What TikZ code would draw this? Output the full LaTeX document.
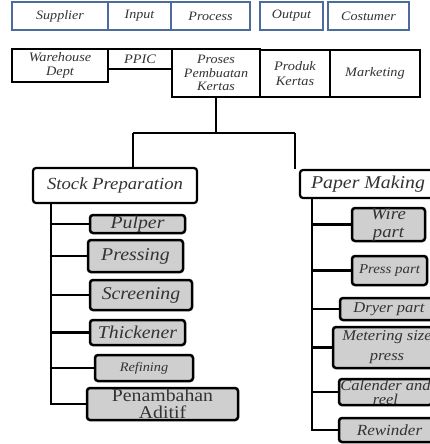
\documentclass[tikz,border=0pt]{standalone}
\usepackage{fontspec}
\setmainfont{Liberation Serif}[FakeStretch=1.1]
\definecolor{topblue}{HTML}{4C6C9C}
\definecolor{subgray}{HTML}{CFCFCF}
\definecolor{txtgray}{HTML}{333333}
\newcommand\mybox[8][]{%
  \node[#2, minimum width={#6pt-#4pt}, minimum height={#7pt-#5pt}] (#3) at ({(#4+#6)/2},{(#5+#7)/2}) {};%
  \node[lbl,#1] at (#3) {#8};}
\tikzset{
  topbox/.style={draw=topblue, line width=2.2pt, fill=white, inner sep=0pt},
  rowbox/.style={draw=black, line width=2pt, fill=white, inner sep=0pt},
  headbox/.style={draw=black, line width=2.2pt, rounded corners=3pt, fill=white, inner sep=0pt},
  subbox/.style={draw=black, line width=2.5pt, rounded corners=3pt, fill=subgray, inner sep=0pt},
  lbl/.style={inner sep=0pt, text=txtgray, align=center},
  conn/.style={line width=2pt, draw=black},
  fi/.style 2 args={font=\fontsize{#1}{#2}\selectfont\itshape},
  fu/.style 2 args={font=\fontsize{#1}{#2}\selectfont},
}
\begin{document}
\begin{tikzpicture}[x=1pt,y=-1pt]
\useasboundingbox (0,0) rectangle (430,444);
\clip (0,0) rectangle (430,444);
% top row
\mybox[fi={12.8}{14}]{topbox}{sup}{12}{2}{108}{30}{Supplier}
\mybox[fi={12.8}{14}]{topbox}{inp}{108}{2}{171}{30}{Input}
\mybox[fi={12.8}{14}]{topbox}{prc}{171}{2}{250}{30}{Process}
\mybox[fi={12.8}{14}]{topbox}{out}{260}{2}{323}{30}{Output}
\mybox[fi={12.8}{14}]{topbox}{cos}{328}{2}{409}{30}{Costumer}
% second row
\mybox[fi={13}{14}]{rowbox}{wh}{12}{49}{108}{82}{Warehouse\\Dept}
\mybox[fi={13}{14}]{rowbox}{ppic}{108}{49}{172}{69}{PPIC}
\mybox[fi={12.8}{13.5}]{rowbox}{pro}{172}{49}{260}{97}{Proses\\Pembuatan\\Kertas}
\mybox[fi={13}{15}]{rowbox}{prk}{260}{50}{330}{97}{Produk\\Kertas}
\mybox[fi={13}{14}]{rowbox}{mkt}{330}{50}{420}{97}{Marketing}
% heads
\mybox[fi={17}{17}]{headbox}{sp}{33}{168}{197}{203}{Stock Preparation}
\mybox[fi={18}{18}]{headbox}{pm}{300}{170}{436}{198}{Paper Making}
% left children
\mybox[fi={18}{18}]{subbox}{pul}{90}{215}{185}{233}{Pulper}
\mybox[fi={18}{18}]{subbox}{pre}{88}{240}{183}{272}{Pressing}
\mybox[fi={18}{18}]{subbox}{scr}{90}{280}{192}{310}{Screening}
\mybox[fi={18}{18}]{subbox}{thk}{90}{320}{185}{345}{Thickener}
\mybox[fi={13}{13}]{subbox}{ref}{95}{355}{193}{381}{Refining}
\mybox[fu={18}{17}]{subbox}{pen}{87}{388}{238}{420}{Penambahan\\Aditif}
% right children
\mybox[fi={17}{18}]{subbox}{wir}{352}{208}{425}{241}{Wire\\part}
\mybox[fi={13.5}{14}]{subbox}{prp}{352}{256}{427}{285}{Press part}
\mybox[fi={15}{15}]{subbox}{dry}{340}{298}{438}{320}{Dryer part}
\mybox[fi={15}{20}]{subbox}{met}{333}{327}{441}{368}{Metering size\\press}
\mybox[fi={15}{14}]{subbox}{cal}{339}{379}{432}{405}{Calender and\\reel}
\mybox[fi={15.5}{16}]{subbox}{rew}{339}{418}{440}{442}{Rewinder}
% connectors
\coordinate (jl) at (133,133);
\coordinate (jr) at (295,133);
\draw[conn] (pro.south) |- (jl);
\draw[conn] (pro.south |- jl) -- (jr);
\draw[conn] (jl) -- (jl |- sp.north);
\draw[conn] (jr) -- (jr |- pm.north);
\coordinate (spt) at ([xshift=19pt]sp.south west);
\foreach \c in {pul,pre,scr,thk,ref,pen} \draw[conn, line width=2.5pt] (spt) |- (\c.west);
\coordinate (pmt) at ([xshift=13pt]pm.south west);
\foreach \c in {wir,prp,dry,met,cal,rew} \draw[conn, line width=2.5pt] (pmt) |- (\c.west);
\end{tikzpicture}
\end{document}
